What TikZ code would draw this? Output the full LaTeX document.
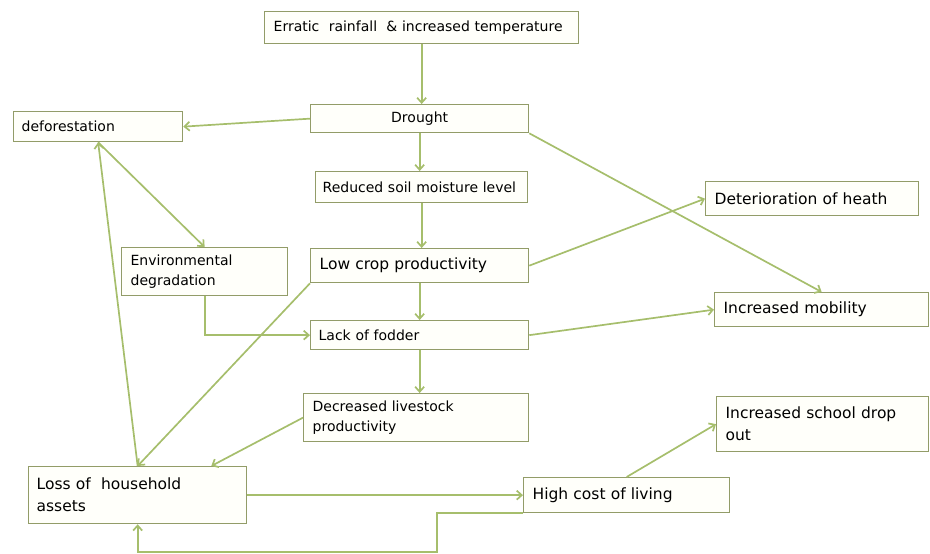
\documentclass[tikz,border=0pt]{standalone}
\usepackage{fontspec}
\setsansfont{DejaVu Sans}
\usetikzlibrary{arrows.meta, positioning, calc}

\definecolor{boxline}{RGB}{146,156,104}
\definecolor{boxfill}{RGB}{255,255,250}
\definecolor{linkgreen}{RGB}{166,190,108}

\begin{document}
\begin{tikzpicture}[
  x=1pt, y=-1pt,
  font=\sffamily,
  cause/.style={
    draw=boxline, line width=1.3pt, fill=boxfill, anchor=north west,
    inner xsep=9pt, inner ysep=0pt, align=left,
    font=\sffamily\fontsize{14}{20}\selectfont
  },
  causeBig/.style={cause, font=\sffamily\fontsize{15.5}{22}\selectfont},
  link/.style={
    draw=linkgreen, line width=1.7pt,
    -{Straight Barb[length=5pt, width=9pt]}
  }
]
\useasboundingbox (0,0) rectangle (930,554);

\node[cause, text width=296pt, minimum height=32pt] (erratic) at (264,11)
  {Erratic~ rainfall~ \& increased temperature};
\node[cause, text width=200pt, minimum height=28pt, align=center] (drought) at (310,104)
  {Drought};
\node[cause, text width=153pt, minimum height=30pt, inner xsep=8pt] (defor) at (13,111)
  {deforestation};
\node[cause, text width=198pt, minimum height=31pt, inner xsep=7pt] (reduced) at (315,171)
  {Reduced soil moisture level};
\node[causeBig, text width=195pt, minimum height=34pt] (health) at (705,181)
  {Deterioration of heath};
\node[cause, text width=148pt, minimum height=48pt] (envdeg) at (121,247)
  {Environmental\\degradation};
\node[causeBig, text width=200pt, minimum height=34pt] (lowcrop) at (310,248)
  {Low crop productivity};
\node[causeBig, text width=196pt, minimum height=34pt] (mobility) at (714,292)
  {Increased mobility};
\node[cause, text width=202pt, minimum height=29pt, inner xsep=8pt] (fodder) at (310,320)
  {Lack of fodder};
\node[cause, text width=207pt, minimum height=48pt] (livestock) at (303,393)
  {Decreased livestock\\productivity};
\node[causeBig, text width=194pt, minimum height=55pt] (school) at (716,396)
  {Increased school drop\\out};
\node[causeBig, text width=202pt, minimum height=57pt, inner xsep=8pt] (loss) at (28,466)
  {Loss of~ household\\assets};
\node[causeBig, text width=188pt, minimum height=35pt] (cost) at (523,477)
  {High cost of living};

% chain down the middle
\draw[link] (erratic.south) -- (erratic.south |- drought.north);
\draw[link] (drought.south) -- (drought.south |- reduced.north);
\draw[link] (reduced.south) -- (reduced.south |- lowcrop.north);
\draw[link] (lowcrop.south) -- (lowcrop.south |- fodder.north);
\draw[link] (fodder.south) -- (fodder.south |- livestock.north);

% side effects
\draw[link] (drought.west) -- (defor.east);
\draw[link] (drought.south east) -- (mobility.north);
\draw[link] (lowcrop.east) -- (health.west);
\draw[link] (fodder.east) -- (mobility.west);
\draw[link] (defor.south) -- (envdeg.north);
\draw[link] (envdeg.south) |- (fodder.west);

% household assets
\draw[link] (lowcrop.south west) -- (loss.north);
\draw[link] (livestock.west) -- ([xshift=-36pt]loss.north east);
\draw[link] (loss.north) -- (defor.south);
\draw[link] (loss.east) -- (cost.west);
\draw[link] (cost.north) -- (school.west);
\draw[link] (cost.south west) -- ++(-86,0) -- ++(0,39) -| (loss.south);
\end{tikzpicture}
\end{document}
